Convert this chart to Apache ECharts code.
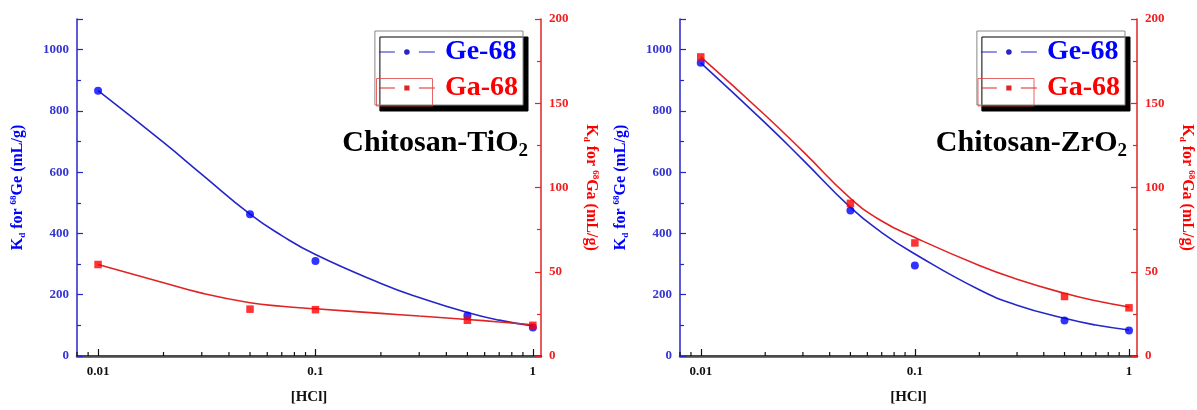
<!DOCTYPE html>
<html>
<head>
<meta charset="utf-8">
<script src="https://cdn.jsdelivr.net/npm/echarts@6/dist/echarts.min.js"></script>
<style>
html,body{margin:0;padding:0;background:#fff;}
#c{width:1197px;height:410px;}
</style>
</head>
<body>
<div id="c"></div>
<script>
// ---- data ----
const xHCl = [0.01, 0.05, 0.1, 0.5, 1];
const geTiO2 = [866, 463, 310, 132, 93];
const gaTiO2 = [54.3, 27.8, 27.5, 21.2, 18.2];
const geZrO2 = [957, 475, 295, 116, 83];
const gaZrO2 = [177.5, 90.6, 67.1, 35.3, 28.6];

const fitX = [0.01, 0.02, 0.03, 0.05, 0.07, 0.1, 0.2, 0.3, 0.5, 0.7, 1];
const geTiO2Fit = [866, 697, 593, 463, 393, 331, 237, 191, 142, 117, 98];
const gaTiO2Fit = [54.3, 43.5, 37.3, 31.6, 29.5, 28.0, 25.3, 23.7, 21.7, 20.2, 18.5];
const geZrO2Fit = [957, 761, 640, 485, 403, 333, 216, 166, 123, 101, 85];
const gaZrO2Fit = [177.5, 142.9, 121.4, 93.6, 80.1, 70.3, 53.7, 45.6, 37.2, 32.8, 29.1];

const xMinorTicks = [0.008, 0.009, 0.02, 0.03, 0.04, 0.05, 0.06, 0.07, 0.08, 0.09,
                     0.2, 0.3, 0.4, 0.5, 0.6, 0.7, 0.8, 0.9];
const seriesNames = ['Ge-68', 'Ga-68'];
const panelLabels = ['Chitosan-TiO', 'Chitosan-ZrO'];

// ---- style ----
const FF = "'Liberation Serif', 'Times New Roman', serif";
const BLUE = '#0000ff';
const BLUE_LINE = '#2626c8';
const BLUE_TXT = '#3434d4';
const RED = '#ff0000';
const RED_LINE = '#e02424';
const RED_TXT = '#f02020';
const ICON_GE = 'path://M0,3.4H16V4.6H0Z M40,3.4H56V4.6H40Z M28,1.2A2.8,2.8 0 1 1 27.99,1.2Z';
const ICON_GA = 'path://M0,3.4H16V4.6H0Z M40,3.4H56V4.6H40Z M25.4,1.4H30.6V6.6H25.4Z';

const pair = (xs, ys) => xs.map((x, i) => [x, ys[i]]);
const plain = v => String(v);

const grids = [
  {left: 77, right: 656, top: 19, bottom: 50},
  {left: 680, right: 55, top: 19, bottom: 51}
];

function xAxes(gi) {
  return [
    {
      gridIndex: gi, type: 'log', min: 0.008, max: 1.09, position: 'bottom',
      axisLine: {lineStyle: {color: '#111', width: 1.5}},
      axisTick: {inside: true, length: 7, lineStyle: {color: '#111', width: 1.2}},
      axisLabel: {color: '#111', fontFamily: FF, fontWeight: 'bold', fontSize: 13, margin: 9,
                  showMinLabel: false, showMaxLabel: false, formatter: plain},
      splitLine: {show: false},
      name: '[HCl]', nameLocation: 'middle', nameGap: 34,
      nameTextStyle: {color: '#111', fontFamily: FF, fontWeight: 'bold', fontSize: 15}
    },
    {
      gridIndex: gi, type: 'log', min: 0.008, max: 1.09, position: 'top',
      axisLine: {lineStyle: {color: '#4a4a4a', width: 2.5}},
      axisTick: {show: false}, axisLabel: {show: false}, splitLine: {show: false}
    }
  ];
}

function nameRich(color) {
  return {
    b: {color: color, fontFamily: FF, fontWeight: 'bold', fontSize: 16},
    d: {color: color, fontFamily: FF, fontWeight: 'bold', fontSize: 9, padding: [9, 0, 0, 0]},
    s: {color: color, fontFamily: FF, fontWeight: 'bold', fontSize: 9, padding: [0, 0, 9, 0]}
  };
}

function yAxes(gi, gapL, gapR) {
  return [
    {
      gridIndex: gi, type: 'value', min: 0, max: 1100, interval: 200, position: 'left',
      axisLine: {show: true, lineStyle: {color: BLUE_LINE, width: 1.5}},
      axisTick: {inside: true, length: 6, lineStyle: {color: BLUE_LINE, width: 1.2}},
      minorTick: {show: true, splitNumber: 2, length: 4, lineStyle: {color: BLUE_LINE, width: 1.2}},
      axisLabel: {color: BLUE_TXT, fontFamily: FF, fontWeight: 'bold', fontSize: 13, margin: 8,
                  showMaxLabel: false, formatter: plain},
      splitLine: {show: false},
      name: '{b|K}{d|d}{b| for }{s|68}{b|Ge (mL/g)}',
      nameLocation: 'middle', nameGap: gapL,
      nameTextStyle: {rich: nameRich(BLUE)}
    },
    {
      gridIndex: gi, type: 'value', min: 0, max: 200, interval: 50, position: 'right',
      axisLine: {show: true, lineStyle: {color: RED_LINE, width: 1.5}},
      axisTick: {inside: true, length: 6, lineStyle: {color: RED_LINE, width: 1.2}},
      minorTick: {show: true, splitNumber: 2, length: 4, lineStyle: {color: RED_LINE, width: 1.2}},
      axisLabel: {color: RED_TXT, fontFamily: FF, fontWeight: 'bold', fontSize: 13, margin: 8, formatter: plain},
      splitLine: {show: false},
      name: '{b|K}{d|d}{b| for }{s|68}{b|Ga (mL/g)}',
      nameLocation: 'middle', nameGap: gapR, nameRotate: -90,
      nameTextStyle: {rich: nameRich(RED)}
    }
  ];
}

function panelSeries(p, geFit, gaFit, ge, ga) {
  const xi = p * 2, yi = p * 2;
  return [
    {
      name: seriesNames[0], type: 'line', xAxisIndex: xi, yAxisIndex: yi,
      data: pair(fitX, geFit), smooth: 0.5, symbol: 'circle', showSymbol: false,
      lineStyle: {color: BLUE_LINE, width: 1.6}, itemStyle: {color: BLUE}, z: 3, silent: true
    },
    {
      name: seriesNames[1], type: 'line', xAxisIndex: xi, yAxisIndex: yi + 1,
      data: pair(fitX, gaFit), smooth: 0.5, symbol: 'rect', showSymbol: false,
      lineStyle: {color: RED_LINE, width: 1.6}, itemStyle: {color: RED}, z: 3, silent: true
    },
    {
      name: seriesNames[0] + ' points ' + p, type: 'scatter', xAxisIndex: xi, yAxisIndex: yi,
      data: pair(xHCl, ge), symbol: 'circle', symbolSize: 8, itemStyle: {color: BLUE}, z: 4
    },
    {
      name: seriesNames[1] + ' points ' + p, type: 'scatter', xAxisIndex: xi, yAxisIndex: yi + 1,
      data: pair(xHCl, ga), symbol: 'rect', symbolSize: 7.5, itemStyle: {color: RED}, z: 5
    },
    {
      name: 'minor ' + p, type: 'custom', xAxisIndex: xi, yAxisIndex: yi,
      data: xMinorTicks.map(v => [v, 0]), clip: false, silent: true, z: 6,
      renderItem: function (params, api) {
        const pt = api.coord([api.value(0), 0]);
        return {type: 'line', shape: {x1: pt[0], y1: pt[1], x2: pt[0], y2: pt[1] - 4},
                style: {stroke: '#111', lineWidth: 1.2}};
      }
    }
  ];
}

function legend(right) {
  return {
    orient: 'vertical', right: right, top: 31,
    itemWidth: 56, itemHeight: 8, itemGap: 8,
    padding: [7, 5, 3, 4],
    backgroundColor: '#fff', borderColor: '#888', borderWidth: 1,
    shadowColor: '#000', shadowBlur: 0, shadowOffsetX: 5, shadowOffsetY: 6,
    selectedMode: false,
    textStyle: {fontFamily: FF, fontWeight: 'bold', fontSize: 28, padding: [0, 0, 0, 5]},
    data: [
      {name: seriesNames[0], icon: ICON_GE, itemStyle: {color: BLUE_LINE, borderWidth: 0},
       textStyle: {color: BLUE}},
      {name: seriesNames[1], icon: ICON_GA, itemStyle: {color: RED_LINE, borderWidth: 0},
       textStyle: {color: RED}}
    ]
  };
}

function panelTitle(text, right) {
  return {
    text: '{m|' + text + '}{s|2}', right: right, top: 126, padding: 0,
    textStyle: {
      rich: {
        m: {fontFamily: FF, fontWeight: 'bold', fontSize: 30, color: '#000'},
        s: {fontFamily: FF, fontWeight: 'bold', fontSize: 19, color: '#000', padding: [16, 0, 0, 0]}
      }
    }
  };
}

const option = {
  animation: false,
  backgroundColor: '#fff',
  grid: grids,
  xAxis: [...xAxes(0), ...xAxes(1)],
  yAxis: [...yAxes(0, 50, 41), ...yAxes(1, 50, 41)],
  legend: [legend(674), legend(72)],
  title: [panelTitle(panelLabels[0], 669), panelTitle(panelLabels[1], 70)],
  graphic: [
    {type: 'rect', shape: {x: 376.5, y: 78.5, width: 56, height: 27.5},
     style: {fill: 'none', stroke: '#e04040', lineWidth: 0.8}, z: 100},
    {type: 'rect', shape: {x: 978, y: 78.5, width: 56, height: 27.5},
     style: {fill: 'none', stroke: '#e04040', lineWidth: 0.8}, z: 100}
  ],
  series: [
    ...panelSeries(0, geTiO2Fit, gaTiO2Fit, geTiO2, gaTiO2),
    ...panelSeries(1, geZrO2Fit, gaZrO2Fit, geZrO2, gaZrO2)
  ]
};

const chart = echarts.init(document.getElementById('c'), null, {renderer: 'canvas'});
chart.setOption(option);
</script>
</body>
</html>
